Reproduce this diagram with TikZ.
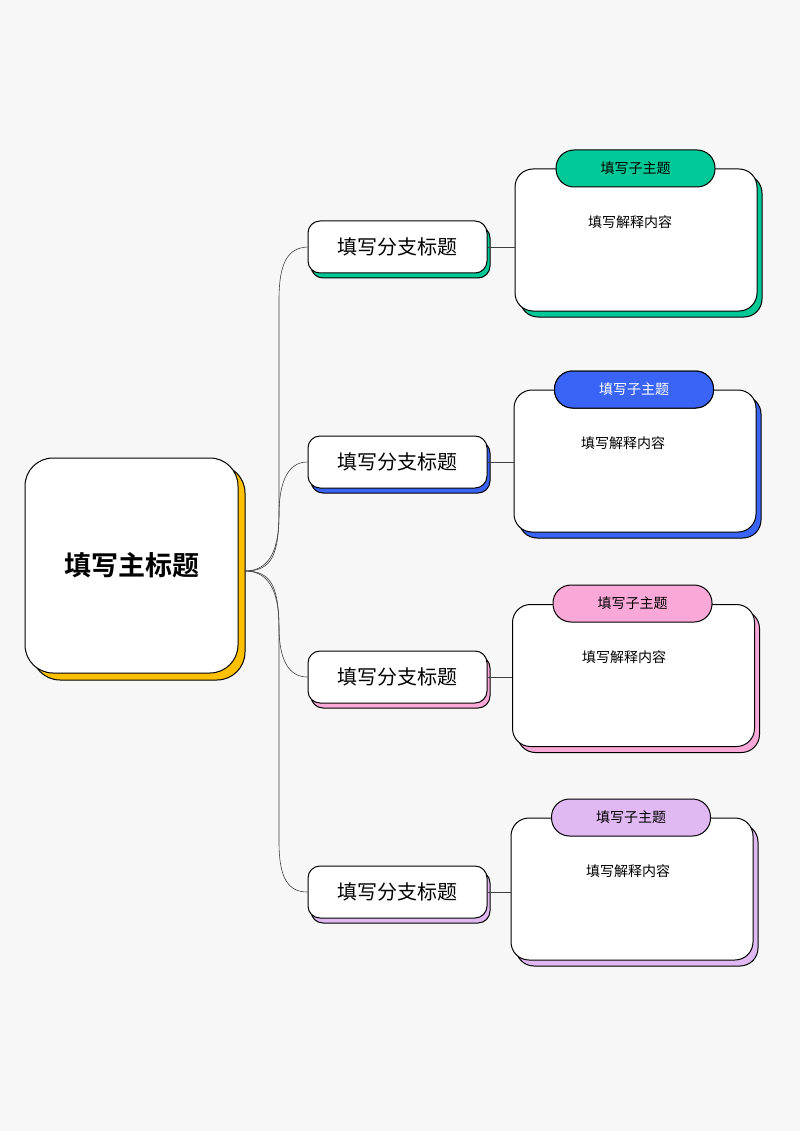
\documentclass[tikz,border=0pt]{standalone}
\usepackage{fontspec}
\newfontfamily\cjk{Noto Sans CJK SC}
\newfontfamily\cjkb{Noto Sans CJK SC Bold}
\definecolor{bg}{HTML}{F7F7F7}
\definecolor{cgreen}{HTML}{00C896}
\definecolor{cblue}{HTML}{3A64F5}
\definecolor{cpink}{HTML}{F9A8D8}
\definecolor{cpurple}{HTML}{E0B8F2}
\definecolor{cyellow}{HTML}{FFC000}
\tikzset{x=1pt,y=-1pt,
 box/.style={draw=black,line width=1pt,fill=white,rounded corners=#1,inner sep=0pt},
 conn/.style={draw=black!75,line width=0.6pt},
 pill/.style={draw=black,line width=1pt,rounded corners=18pt,inner sep=0pt,minimum width=159pt,minimum height=37pt,font=\cjk\fontsize{14}{16}\selectfont}}
\begin{document}
\begin{tikzpicture}
\fill[bg] (0,0) rectangle (800,1131);
\useasboundingbox (0,0) rectangle (800,1131);
% main
\fill[cyellow,draw=black,line width=1pt,rounded corners=28pt] (32,465) rectangle (245,680);
\node[box=28pt,minimum width=213pt,minimum height=215pt,font=\cjkb\fontsize{27}{32}\selectfont] (main) at (131.5,565.5) {\raisebox{-8pt}{填写主标题}};
\coordinate (mr) at (245,571);
% branches
\foreach \i/\by/\dy/\py/\dx/\px/\tx/\col in {1/247/240/168.5/636/635.5/630/cgreen,2/462/461/389.5/635/634/623/cblue,3/677/675.5/603.5/633.5/632.5/624/cpink,4/892/889/817.5/632/631/628/cpurple}{
  \fill[\col,draw=black,line width=1pt,rounded corners=12pt] (311,\by-21) rectangle (490,\by+31);
  \node[box=12pt,minimum width=179pt,minimum height=52pt,font=\cjk\fontsize{20}{24}\selectfont] (b\i) at (397.5,\by) {填写分支标题};
  \fill[\col,draw=black,line width=1pt,rounded corners=18pt] (\dx-116,\dy-65) rectangle (\dx+126,\dy+77);
  \node[box=18pt,minimum width=242pt,minimum height=142pt] (d\i) at (\dx,\dy) {};
  \node[font=\cjk\fontsize{14}{16}\selectfont] (t\i) at (\tx,\dy-18) {填写解释内容};
  \node[pill,fill=\col,text=black] (p\i) at (\px,\py) {填写子主题};
  \draw[conn] (b\i.east) -- (b\i.east -| d\i.west);
}
\node[pill,fill=cblue,text=white] at (634,389.5) {填写子主题};
\draw[conn] (mr) .. controls (272,571) and (279,555) .. (279,510) -- (279,300) .. controls (279,262) and (288,248) .. (b1.west);
\draw[conn] (mr) .. controls (272,571) and (279,545) .. (279,515) .. controls (279,478) and (290,462) .. (b2.west);
\draw[conn] (mr) .. controls (272,571) and (279,597) .. (279,627) .. controls (279,662) and (290,677) .. (b3.west);
\draw[conn] (mr) .. controls (272,571) and (279,587) .. (279,632) -- (279,842) .. controls (279,878) and (288,892) .. (b4.west);
\end{tikzpicture}
\end{document}
